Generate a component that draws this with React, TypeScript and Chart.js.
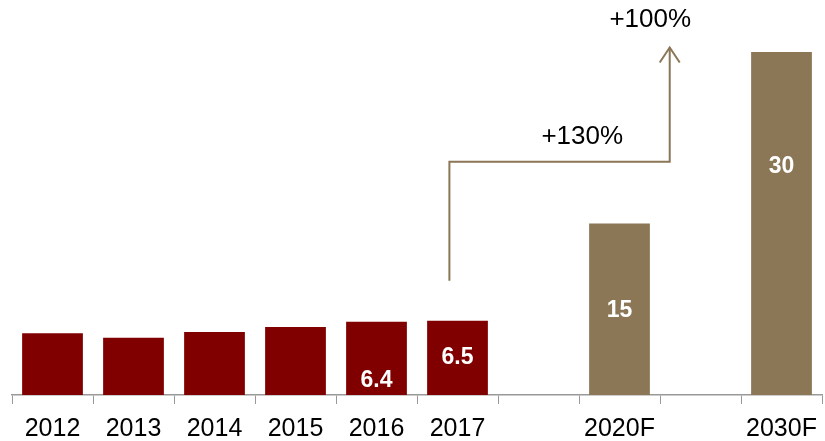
import React, { useEffect, useRef } from "react";
import { Chart, registerables } from "chart.js";

Chart.register(...registerables);

const categories = ["2012", "2013", "2014", "2015", "2016", "2017", "", "2020F", "", "2030F"];
const values = [5.4, 5.0, 5.5, 5.95, 6.4, 6.5, null, 15, null, 30];
const isForecast = [false, false, false, false, false, false, false, true, false, true];
const valueLabels = ["", "", "", "", "6.4", "6.5", "", "15", "", "30"];
const labelFraction = [0, 0, 0, 0, 0.2, 0.5, 0, 0.49, 0, 0.665];
const growthLabels = ["+130%", "+100%"];

const RED = "#800000";
const GOLD = "#8B7655";
const FONT = "'Liberation Sans', Arial, sans-serif";

const annotationPlugin = {
  id: "annot",
  afterDatasetsDraw(chart: any) {
    const { ctx, scales } = chart;
    const xs = scales.x;
    const ys = scales.y;
    const w = xs.getPixelForValue(1) - xs.getPixelForValue(0);
    const meta = chart.getDatasetMeta(0);
    ctx.save();
    ctx.fillStyle = "#ffffff";
    ctx.font = `bold 23px ${FONT}`;
    ctx.textAlign = "center";
    ctx.textBaseline = "middle";
    meta.data.forEach((bar: any, i: number) => {
      if (!valueLabels[i]) return;
      const y = bar.base + (bar.y - bar.base) * labelFraction[i];
      ctx.fillText(valueLabels[i], bar.x, y);
    });
    const x0 = xs.getPixelForValue(5) - 0.1 * w;
    const y0 = ys.getPixelForValue(10);
    const yMid = ys.getPixelForValue(20.4);
    const x1 = xs.getPixelForValue(8) - 0.38 * w;
    const yTop = ys.getPixelForValue(30.4);
    ctx.strokeStyle = GOLD;
    ctx.lineWidth = 2;
    ctx.beginPath();
    ctx.moveTo(x0, y0);
    ctx.lineTo(x0, yMid);
    ctx.lineTo(x1, yMid);
    ctx.lineTo(x1, yTop);
    ctx.stroke();
    ctx.beginPath();
    ctx.moveTo(x1 - 10, yTop + 15);
    ctx.lineTo(x1, yTop);
    ctx.lineTo(x1 + 10, yTop + 15);
    ctx.stroke();
    ctx.fillStyle = "#000000";
    ctx.font = `26px ${FONT}`;
    ctx.fillText(growthLabels[0], xs.getPixelForValue(7) - 0.46 * w, ys.getPixelForValue(22.6));
    ctx.fillText(growthLabels[1], xs.getPixelForValue(8) - 0.62 * w, ys.getPixelForValue(32.8));
    ctx.restore();
  },
};

export default function App() {
  const ref = useRef<HTMLCanvasElement | null>(null);
  useEffect(() => {
    if (!ref.current) return;
    const chart = new Chart(ref.current, {
      type: "bar",
      data: {
        labels: categories,
        datasets: [
          {
            data: values as any,
            backgroundColor: isForecast.map((f) => (f ? GOLD : RED)),
            barPercentage: 0.75,
            categoryPercentage: 1,
          },
        ],
      },
      options: {
        animation: false,
        responsive: false,
        layout: { padding: { left: 12, right: 3, top: 0, bottom: 0 } },
        plugins: { legend: { display: false }, tooltip: { enabled: false } },
        scales: {
          x: {
            afterFit: (scale: any) => {
              scale.height = 46;
              scale.paddingLeft = 0;
              scale.paddingRight = 0;
            },
            grid: {
              display: true,
              drawOnChartArea: false,
              drawTicks: true,
              tickLength: 9,
              color: "#999999",
              offset: true,
            },
            border: { display: true, color: "#999999", width: 1.5 },
            ticks: {
              color: "#000000",
              font: { family: FONT, size: 25, lineHeight: 1 },
              padding: 13,
              maxRotation: 0,
              autoSkip: false,
            },
          },
          y: { display: false, min: 0, max: 34.55 },
        },
      },
      plugins: [annotationPlugin],
    });
    return () => chart.destroy();
  }, []);
  return (
    <div style={{ position: "fixed", left: 0, top: 0, width: 825, height: 441, background: "#fff" }}>
      <canvas ref={ref} width={825} height={441} style={{ width: 825, height: 441 }} />
    </div>
  );
}
